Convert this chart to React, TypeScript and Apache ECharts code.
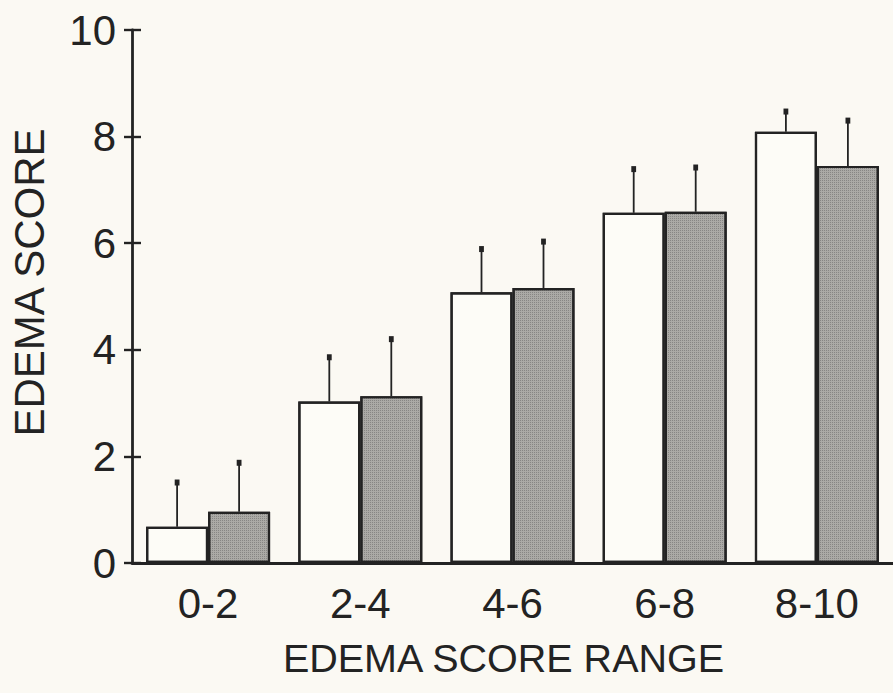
import React, { useEffect, useRef } from "react";
import * as echarts from "echarts";

const categories = ["0-2", "2-4", "4-6", "6-8", "8-10"];
const whiteMeans = [0.68, 3.03, 5.08, 6.57, 8.09];
const whiteUpper = [1.51, 3.86, 5.89, 7.39, 8.47];
const grayMeans = [0.96, 3.13, 5.16, 6.59, 7.45];
const grayUpper = [1.88, 4.2, 6.03, 7.42, 8.3];
const yTicks = { min: 0, max: 10, interval: 2 };

const FONT = "'Liberation Sans', Arial, Helvetica, sans-serif";
const INK = "#232323";
const BG = "#fbf9f3";
const BAR_W = 62;

function errorSeries(means: number[], upper: number[], offset: number) {
  return {
    type: "custom",
    z: 5,
    renderItem: (params: any, api: any) => {
      const cat = api.value(0);
      const m = api.value(1);
      const u = api.value(2);
      const p0 = api.coord([cat, m]);
      const p1 = api.coord([cat, u]);
      const x = p0[0] + offset;
      return {
        type: "group",
        children: [
          {
            type: "line",
            shape: { x1: x, y1: p0[1], x2: x, y2: p1[1] },
            style: { stroke: INK, lineWidth: 1.8 },
          },
          {
            type: "rect",
            shape: { x: x - 2.4, y: p1[1] - 3, width: 4.8, height: 6 },
            style: { fill: INK },
          },
        ],
      };
    },
    encode: { x: 0, y: [1, 2] },
    data: means.map((m, i) => [i, m, upper[i]]),
  };
}

export default function App() {
  const ref = useRef<HTMLDivElement>(null);
  useEffect(() => {
    if (!ref.current) return;
    const chart = echarts.init(ref.current, null, { renderer: "svg" });
    chart.setOption({
      animation: false,
      backgroundColor: BG,
      aria: { enabled: true, decal: { show: true } },
      grid: { left: 127, width: 769, top: 30, bottom: 130 },
      xAxis: {
        type: "category",
        data: categories,
        axisLine: { show: true, lineStyle: { color: INK, width: 2.8 } },
        axisTick: { show: false },
        axisLabel: {
          fontFamily: FONT,
          fontSize: 42,
          color: INK,
          margin: 19,
        },
        name: "EDEMA SCORE RANGE",
        nameLocation: "middle",
        nameGap: 75,
        nameTextStyle: {
          fontFamily: FONT,
          fontSize: 39.5,
          color: INK,
          padding: [0, 18, 0, 0],
        },
      },
      yAxis: [
        {
          type: "value",
          position: "left",
          min: yTicks.min,
          max: yTicks.max,
          interval: yTicks.interval,
          axisLine: { show: true, lineStyle: { color: INK, width: 2.8 } },
          axisTick: { show: true, length: 8, lineStyle: { color: INK, width: 2.4 } },
          splitLine: { show: false },
          axisLabel: { fontFamily: FONT, fontSize: 42, color: INK, margin: 16 },
          name: "EDEMA SCORE",
          nameLocation: "middle",
          nameGap: 82,
          nameTextStyle: {
            fontFamily: FONT,
            fontSize: 42,
            color: INK,
            padding: [0, 0, 0, 28],
          },
        },
        {
          type: "value",
          position: "left",
          min: yTicks.min,
          max: yTicks.max,
          interval: yTicks.interval,
          axisLine: { show: false },
          axisTick: { show: true, inside: true, length: 9, lineStyle: { color: INK, width: 2.4 } },
          splitLine: { show: false },
          axisLabel: { show: false },
        },
      ],
      series: [
        {
          type: "bar",
          data: whiteMeans,
          barWidth: BAR_W,
          barGap: "0%",
          itemStyle: {
            color: "#fdfcf7",
            borderColor: INK,
            borderWidth: 2.2,
            decal: { symbol: "none" },
          },
        },
        {
          type: "bar",
          data: grayMeans,
          barWidth: BAR_W,
          barGap: "0%",
          itemStyle: {
            color: "#abaaa6",
            borderColor: INK,
            borderWidth: 2.2,
            decal: {
              symbol: "rect",
              symbolSize: 1,
              dashArrayX: [1, 1],
              dashArrayY: [1, 1],
              color: "rgba(60,60,60,0.32)",
              rotation: 0,
            },
          },
        },
        errorSeries(whiteMeans, whiteUpper, -BAR_W / 2),
        errorSeries(grayMeans, grayUpper, BAR_W / 2),
      ],
    });
    return () => chart.dispose();
  }, []);
  return (
    <div
      ref={ref}
      style={{ position: "absolute", left: 0, top: 0, width: 893, height: 693 }}
    />
  );
}
